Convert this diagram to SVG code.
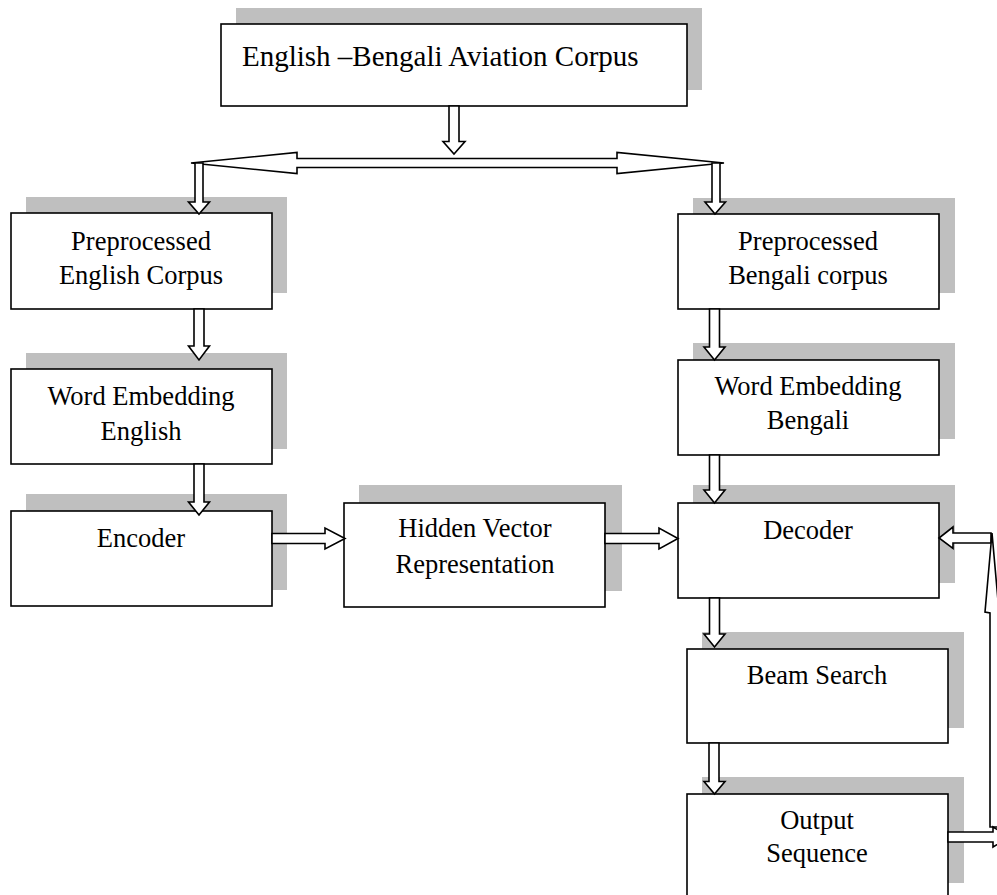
<svg xmlns="http://www.w3.org/2000/svg" width="997" height="895" viewBox="0 0 997 895">
<style>
.sh{fill:#bfbfbf;stroke:none}
.bx{fill:#fff;stroke:#000;stroke-width:1.6}
.t{font-family:"Liberation Serif","Times New Roman",serif;font-size:26.5px;fill:#000;text-anchor:middle}
.ar{fill:#fff;stroke:#000;stroke-width:1.6;stroke-linejoin:miter}
</style>
<rect width="997" height="895" fill="#fff"/>
<g id="corpus">
<rect class="sh" x="236" y="8" width="466" height="82"/>
<rect class="bx" x="221" y="24" width="466" height="82"/>
<text class="t" x="242" y="66" style="text-anchor:start;font-size:29px">English –Bengali Aviation Corpus</text>
</g>
<g id="prep-en">
<rect class="sh" x="26" y="197" width="261" height="96"/>
<rect class="bx" x="11" y="213" width="261" height="96"/>
<text class="t" x="141" y="250">Preprocessed</text>
<text class="t" x="141" y="284">English Corpus</text>
</g>
<g id="prep-bn">
<rect class="sh" x="693" y="198" width="262" height="95"/>
<rect class="bx" x="678" y="214" width="261" height="95"/>
<text class="t" x="808" y="250">Preprocessed</text>
<text class="t" x="808" y="284">Bengali corpus</text>
</g>
<g id="we-en">
<rect class="sh" x="26" y="353" width="261" height="96"/>
<rect class="bx" x="11" y="369" width="261" height="95"/>
<text class="t" x="141" y="405">Word Embedding</text>
<text class="t" x="141" y="440">English</text>
</g>
<g id="we-bn">
<rect class="sh" x="693" y="343" width="262" height="96"/>
<rect class="bx" x="678" y="360" width="261" height="95"/>
<text class="t" x="808" y="395">Word Embedding</text>
<text class="t" x="808" y="429">Bengali</text>
</g>
<g id="encoder">
<rect class="sh" x="26" y="494" width="261" height="96"/>
<rect class="bx" x="11" y="511" width="261" height="95"/>
<text class="t" x="141" y="547">Encoder</text>
</g>
<g id="hidden">
<rect class="sh" x="359" y="485" width="263" height="106"/>
<rect class="bx" x="344" y="503" width="261" height="104"/>
<text class="t" x="475" y="537">Hidden Vector</text>
<text class="t" x="475" y="573">Representation</text>
</g>
<g id="decoder">
<rect class="sh" x="693" y="485" width="262" height="98"/>
<rect class="bx" x="678" y="503" width="261" height="95"/>
<text class="t" x="808" y="539">Decoder</text>
</g>
<g id="beam">
<rect class="sh" x="702" y="632" width="262" height="96"/>
<rect class="bx" x="687" y="649" width="261" height="94"/>
<text class="t" x="817" y="684">Beam Search</text>
</g>
<g id="output">
<rect class="sh" x="702" y="777" width="262" height="106"/>
<rect class="bx" x="687" y="794" width="261" height="115"/>
<text class="t" x="817" y="829">Output</text>
<text class="t" x="817" y="862">Sequence</text>
</g>
<g id="connectors">
<polygon class="ar" points="449,106 459,106 459,141.5 465,141.5 454,154 443,141.5 449,141.5"/>
<polygon class="ar" points="191,163 297,152.5 297,158.5 617,158.5 617,152.5 724,163 617,173.5 617,167.5 297,167.5 297,173.5"/>
<polygon class="ar" points="195,163 203,163 203,202 209.5,202 199,214 188.5,202 195,202"/>
<polygon class="ar" points="712,163 720,163 720,202 725.5,202 715,214 705,202 712,202"/>
<polygon class="ar" points="194,309 204,309 204,346 209.5,346 199,360 188.5,346 194,346"/>
<polygon class="ar" points="194,464 204,464 204,502 209.5,502 199,515 188.5,502 194,502"/>
<polygon class="ar" points="709.5,309 719.5,309 719.5,347 725,347 714.5,360 704,347 709.5,347"/>
<polygon class="ar" points="709.5,455 719.5,455 719.5,490 725,490 714.5,503 704,490 709.5,490"/>
<polygon class="ar" points="709.5,598 719.5,598 719.5,634 725,634 714.5,647 704,634 709.5,634"/>
<polygon class="ar" points="709,743 719,743 719,781.5 725,781.5 714.5,794 704,781.5 709,781.5"/>
<polygon class="ar" points="272,533.5 325,533.5 325,528 345,538.5 325,549 325,543.5 272,543.5"/>
<polygon class="ar" points="605,533.5 659,533.5 659,528 678,538.5 659,549 659,543.5 605,543.5"/>
<polygon class="ar" points="991,533 953,533 953,527 939,538 953,548.5 953,543 991,543"/>
<polygon class="ar" points="992,533 999,612 1001,612 1001,827 990,827 990,613 985,612"/>
<polygon class="ar" points="948,832 993,832 993,827 1010,837 993,847 993,842 948,842"/>
</g>
</svg>
